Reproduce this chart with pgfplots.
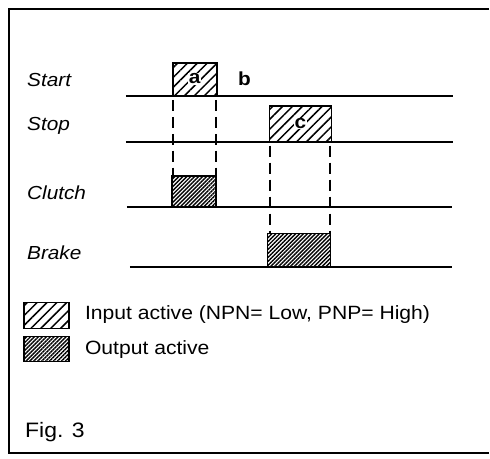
\documentclass[border=0pt]{standalone}
\usepackage{pgfplots}
\pgfplotsset{compat=1.18}
\usepackage{fontspec}
\setmainfont[FakeStretch=1.1]{Liberation Sans}
\usetikzlibrary{patterns.meta}
\begin{document}
\begin{tikzpicture}
\begin{axis}[width=490bp,height=459bp,scale only axis,
  xmin=0,xmax=490,ymin=0,ymax=459,y dir=reverse,
  axis line style={draw=none},xtick=\empty,ytick=\empty,clip=false]
% frame
\addplot[black,line width=1.8bp] coordinates {(490,9) (9,9) (9,454) (490,454)};
% baselines
\addplot[black,line width=2bp] coordinates {(126,96) (454,96)};
\addplot[black,line width=2bp] coordinates {(126,142) (454,142)};
\addplot[black,line width=2bp] coordinates {(127,207) (453,207)};
\addplot[black,line width=2bp] coordinates {(130,267) (453,267)};
% dashed
\addplot[black,line width=2bp,dash pattern=on 11bp off 6bp] coordinates {(173,100) (173,176)};
\addplot[black,line width=2bp,dash pattern=on 11bp off 6bp] coordinates {(216,100) (216,176)};
\addplot[black,line width=2bp,dash pattern=on 11bp off 6bp] coordinates {(270,146) (270,234)};
\addplot[black,line width=2bp,dash pattern=on 11bp off 6bp] coordinates {(331,146) (331,234)};
% input boxes
\addplot[draw=black,line width=1.8bp,fill=white,postaction={pattern={Lines[angle=45,distance=7bp,line width=1.5bp]}}] coordinates {(173,96) (173,63) (217,63) (217,96)} -- cycle;
\addplot[draw=black,line width=1.8bp,fill=white,postaction={pattern={Lines[angle=45,distance=7bp,line width=1.5bp]}}] coordinates {(270,142) (270,106) (332,106) (332,142)} -- cycle;
% output boxes
\addplot[draw=black,line width=1.8bp,fill=white,postaction={pattern={Lines[angle=45,distance=2.8bp,line width=1.4bp]}}] coordinates {(172,207) (172,176) (216,176) (216,207)} -- cycle;
\addplot[draw=black,line width=1.8bp,fill=white,postaction={pattern={Lines[angle=45,distance=2.8bp,line width=1.4bp]}}] coordinates {(268,267) (268,234) (331,234) (331,267)} -- cycle;
% legend boxes
\addplot[draw=black,line width=1.6bp,fill=white,postaction={pattern={Lines[angle=45,distance=7bp,line width=1.5bp]}}] coordinates {(24,329) (24,303) (69,303) (69,329)} -- cycle;
\addplot[draw=black,line width=1.6bp,fill=white,postaction={pattern={Lines[angle=45,distance=2.8bp,line width=1.4bp]}}] coordinates {(24,362) (24,337) (69,337) (69,362)} -- cycle;
% labels
\node[anchor=west,inner sep=0pt,font=\fontsize{19}{21}\selectfont\itshape] at (axis cs:27,80) {Start};
\node[anchor=west,inner sep=0pt,font=\fontsize{19}{21}\selectfont\itshape] at (axis cs:27,126) {Stop};
\node[anchor=west,inner sep=0pt,font=\fontsize{19}{21}\selectfont\itshape] at (axis cs:27,193) {Clutch};
\node[anchor=west,inner sep=0pt,font=\fontsize{19}{21}\selectfont\itshape] at (axis cs:27,253) {Brake};
\node[fill=white,inner sep=0.5bp,font=\fontsize{19}{21}\selectfont\bfseries] at (axis cs:195,79) {a};
\node[inner sep=0pt,font=\fontsize{19}{21}\selectfont\bfseries] at (axis cs:245,79) {b};
\node[fill=white,inner sep=0.5bp,font=\fontsize{19}{21}\selectfont\bfseries] at (axis cs:301,124) {c};
\node[anchor=west,inner sep=0pt,font=\fontsize{19.3}{21}\selectfont] at (axis cs:85,315) {Input active (NPN= Low, PNP= High)};
\node[anchor=west,inner sep=0pt,font=\fontsize{19.3}{21}\selectfont] at (axis cs:85,350) {Output active};
\node[anchor=west,inner sep=0pt,font=\fontsize{21}{23}\selectfont] at (axis cs:25,433) {Fig. 3};
\end{axis}
\end{tikzpicture}
\end{document}
